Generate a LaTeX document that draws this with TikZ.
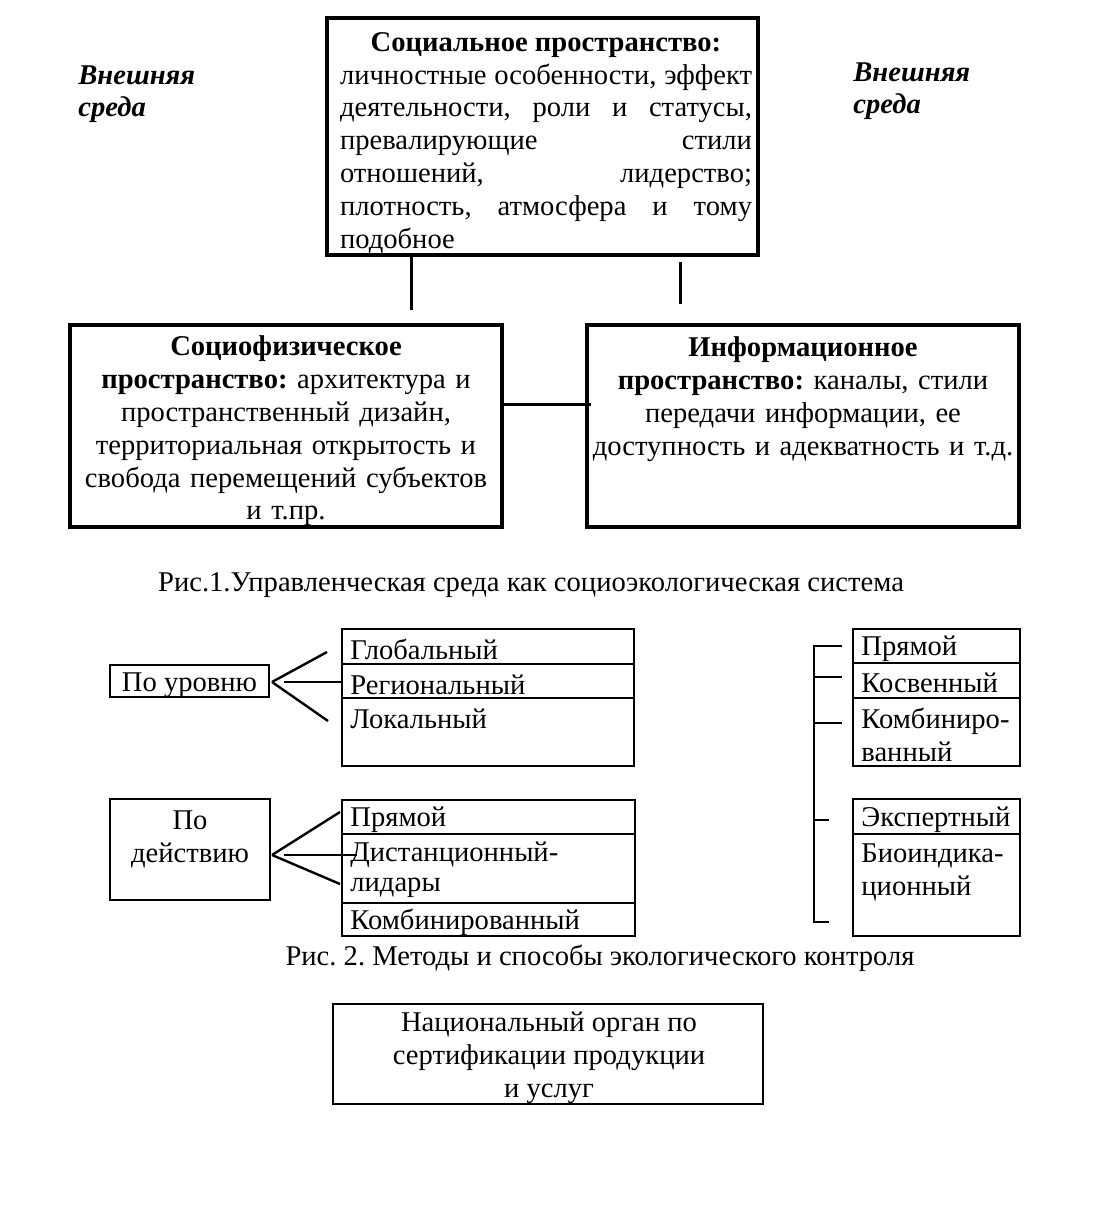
\documentclass[tikz,border=0pt]{standalone}
\usepackage{fontspec}
\setmainfont{Liberation Serif}
\usetikzlibrary{fit}
\frenchspacing
\begin{document}
\begin{tikzpicture}[x=0.5pt,y=-0.5pt,
  every node/.style={font=\fontsize{14.3}{16.4}\selectfont},
  thickframe/.style={draw, line width=1.8pt, inner sep=0pt},
  thinframe/.style={draw, line width=0.7pt, inner sep=0pt},
  txt/.style={inner sep=0pt, align=center},
  item/.style={inner sep=0pt, anchor=west},
  conn/.style={line width=1.2pt},
  bconn/.style={line width=1.5pt},
  divider/.style={line width=0.7pt}]
\useasboundingbox (0,0) rectangle (1103,1213);

% ---------- Fig. 1 ----------
\node[thickframe, fit={(327,18)(758,255)}] (top) {};
\node[txt, text width=206pt, align=left] (toptext) at (546,143) {\spaceskip=0pt\xspaceskip=0pt%
\makebox[206pt][c]{\bfseries Социальное пространство:}\\
\makebox[206pt][s]{личностные особенности, эффект}\\
\makebox[206pt][s]{деятельности, роли и статусы,}\\
\makebox[206pt][s]{превалирующие стили}\\
\makebox[206pt][s]{отношений, лидерство;}\\
\makebox[206pt][s]{плотность, атмосфера и тому}\\
подобное};

\node[txt, anchor=west, align=left, font=\fontsize{14.3}{16}\selectfont\bfseries\itshape] (envL) at (78,94) {Внешняя\\среда};
\node[txt, anchor=west, align=left, font=\fontsize{14.3}{16}\selectfont\bfseries\itshape] (envR) at (853,91) {Внешняя\\среда};

\node[thickframe, fit={(70,325)(502,527)}] (left) {};
\node[txt, text width=216pt] (lefttext) at (286,431) {%
\textbf{Социофизическое}\\
\textbf{пространство:} архитектура и\\
пространственный дизайн,\\
территориальная открытость и\\
свобода перемещений субъектов\\
и т.пр.};

\node[thickframe, fit={(587,325)(1019,527)}] (right) {};
\node[txt, text width=216pt] (righttext) at (803,399) {%
\textbf{Информационное}\\
\textbf{пространство:} каналы, стили\\
передачи информации, ее\\
доступность и адекватность и т.д.};

\coordinate (v1) at (411,310);
\coordinate (v2) at (680,304);
\coordinate (v2top) at (680,262);
\coordinate (hy) at (545,405);
\draw[bconn] (v1 |- top.south) -- (v1);
\draw[bconn] (v2top) -- (v2);
\draw[bconn] (left.east |- hy) -- ([xshift=3pt]right.west |- hy);

\node[txt] (cap1) at (531,585) {Рис.1.Управленческая среда как социоэкологическая система};

% ---------- Fig. 2 ----------
\node[thinframe, fit={(110,665)(269,697)}] (lev) {};
\node[txt] at ([yshift=-2pt]lev.center) {По уровню};

\node[thinframe, fit={(342,629)(634,766)}] (list1) {};
\draw[divider] (list1.west |- 0,664) -- (list1.east |- 0,664);
\draw[divider] (list1.west |- 0,698) -- (list1.east |- 0,698);
\node[item] (g1) at (350,649) {Глобальный};
\node[item] (g2) at (350,685) {Региональный};
\node[item] (g3) at (350,719) {Локальный};

\coordinate (la) at (272,682);
\coordinate (l1) at (327,652);
\coordinate (l2s) at (284,682);
\coordinate (l2) at (342,682);
\coordinate (l3) at (328,721);
\draw[conn] (la) -- (l1);
\draw[conn] (l2s) -- (l2);
\draw[conn] (la) -- (l3);

\node[thinframe, fit={(110,799)(270,900)}] (act) {};
\node[txt] at (190,839) {По\\действию};

\node[thinframe, fit={(342,800)(635,936)}] (list2) {};
\draw[divider] (list2.west |- 0,834) -- (list2.east |- 0,834);
\draw[divider] (list2.west |- 0,903) -- (list2.east |- 0,903);
\node[item] (d1) at (350,820) {Прямой};
\node[item] (d2) at (350,855) {Дистанционный-};
\node[item] (d3) at (350,888) {лидары};
\node[item] (d4) at (350,922) {Комбинированный};

\coordinate (da) at (272,855);
\coordinate (d1e) at (340,812);
\coordinate (d2s) at (284,855);
\coordinate (d2e) at (357,855);
\coordinate (d3e) at (340,884);
\draw[conn] (da) -- (d1e);
\draw[conn] (d2s) -- (d2e);
\draw[conn] (da) -- (d3e);

% right group
\node[thinframe, fit={(853,629)(1020,766)}] (boxA) {};
\draw[divider] (boxA.west |- 0,663) -- (boxA.east |- 0,663);
\draw[divider] (boxA.west |- 0,698) -- (boxA.east |- 0,698);
\node[item] (a1) at (861,649) {Прямой};
\node[item] (a2) at (861,683) {Косвенный};
\node[item, align=left] (a3) at (861,735) {Комбиниро-\\ванный};

\node[thinframe, fit={(853,799)(1020,936)}] (boxB) {};
\draw[divider] (boxB.west |- 0,834) -- (boxB.east |- 0,834);
\node[item] (b1) at (861,820) {Экспертный};
\node[item, align=left] (b2) at (861,872) {Биоиндика-\\ционный};

\coordinate (bt) at (814,645);
\coordinate (bb) at (814,923);
\draw[conn] (bt) -- (bb);
\coordinate (t1) at (842,646);
\coordinate (t2) at (842,677);
\coordinate (t3) at (842,723);
\coordinate (t4) at (829,820);
\coordinate (t5) at (829,922);
\draw[conn] (t1 -| bt) -- (t1);
\draw[conn] (t2 -| bt) -- (t2);
\draw[conn] (t3 -| bt) -- (t3);
\draw[conn] (t4 -| bt) -- (t4);
\draw[conn] (t5 -| bt) -- (t5);

\node[txt] (cap2) at (600,958) {Рис. 2. Методы и способы экологического контроля};

% ---------- bottom box ----------
\node[thinframe, fit={(333,1004)(763,1104)}] (nat) {};
\node[txt] at (549,1058) {Национальный орган по\\сертификации продукции\\и услуг};
\end{tikzpicture}
\end{document}
